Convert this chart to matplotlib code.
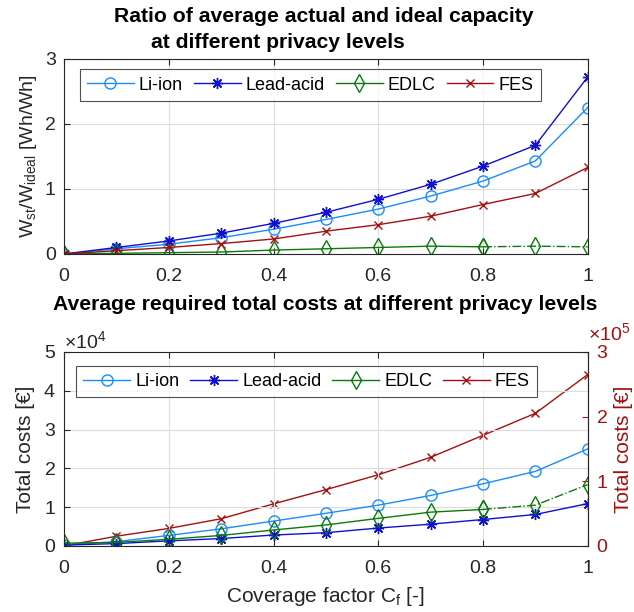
import numpy as np
import matplotlib
matplotlib.use('Agg')
import matplotlib.pyplot as plt
from matplotlib.ticker import ScalarFormatter
from matplotlib.transforms import offset_copy

plt.rcParams['font.family'] = ['Liberation Sans', 'DejaVu Sans']
plt.rcParams['mathtext.fontset'] = 'custom'
plt.rcParams['mathtext.rm'] = 'Liberation Sans'
plt.rcParams['mathtext.it'] = 'Liberation Sans:italic'

# Coverage factor
cf = [0, 0.1, 0.2, 0.3, 0.4, 0.5, 0.6, 0.7, 0.8, 0.9, 1.0]

# Ratio of actual to ideal capacity
ratio_li = [0, 0.08, 0.15, 0.25, 0.38, 0.53, 0.69, 0.89, 1.12, 1.43, 2.25]
ratio_pb = [0, 0.10, 0.20, 0.32, 0.47, 0.64, 0.84, 1.07, 1.35, 1.67, 2.72]
ratio_edlc = [0, 0.01, 0.02, 0.03, 0.06, 0.08, 0.10, 0.12, 0.11, 0.12, 0.11]
ratio_fes = [0, 0.05, 0.10, 0.16, 0.23, 0.35, 0.45, 0.58, 0.76, 0.93, 1.33]

# Total costs [EUR]
cost_li = [200, 1100, 2700, 4400, 6400, 8400, 10500, 13000, 16000, 19200, 25000]
cost_pb = [200, 600, 1300, 1900, 2800, 3400, 4600, 5600, 6800, 8100, 10900]
cost_edlc = [700, 900, 1700, 2700, 4100, 5400, 7100, 8700, 9400, 10500, 15800]
cost_fes = [0, 15000, 27000, 42000, 65000, 87000, 110000, 137000, 171000, 205000, 265000]

labels = ['Li-ion', 'Lead-acid', 'EDLC', 'FES']
c_li = '#1a8cff'
c_pb = '#1010d0'
c_edlc = '#0a7a0a'
c_fes = '#a50f0f'

star = (8, 2, 0)
st_li = dict(color=c_li, marker='o', ms=8, mfc='none', lw=1)
st_pb = dict(color=c_pb, marker=star, ms=8, lw=1)
st_edlc = dict(color=c_edlc, marker='d', ms=9, mfc='none', lw=1)
st_fes = dict(color=c_fes, marker='x', ms=6, lw=1)

fs = 14
leg_kw = dict(ncol=4, loc='upper center', fontsize=13, frameon=True, fancybox=False,
              edgecolor='#262626', handlelength=2.6, handletextpad=0.28,
              columnspacing=0.6, borderpad=0.4, borderaxespad=0)

fig = plt.figure(figsize=(6.34, 6.12), dpi=100)
ax1 = fig.add_axes([0.101, 0.585, 0.826, 0.319])
ax2 = fig.add_axes([0.101, 0.108, 0.826, 0.317])


def style(ax):
    ax.grid(True, color='#dcdcdc', lw=0.8)
    ax.set_axisbelow(True)
    ax.tick_params(direction='in', labelsize=fs, length=4, width=0.8, colors='#262626', pad=6)
    ax.tick_params(axis='x', pad=10)
    for s in ax.spines.values():
        s.set_color('#262626')
        s.set_linewidth(0.8)
    ax.set_xlim(0, 1)
    ax.set_xticks([0, 0.2, 0.4, 0.6, 0.8, 1])
    ax.set_xticklabels(['0', '0.2', '0.4', '0.6', '0.8', '1'])


# top panel
style(ax1)
ax1.tick_params(right=True, top=True)
h1, = ax1.plot(cf, ratio_li, **st_li)
h2, = ax1.plot(cf, ratio_pb, **st_pb)
h3, = ax1.plot(cf[:9], ratio_edlc[:9], **st_edlc)
ax1.plot(cf[8:], ratio_edlc[8:], ls='-.', **st_edlc)
h4, = ax1.plot(cf, ratio_fes, **st_fes)
ax1.set_ylim(0, 3)
ax1.set_yticks([0, 1, 2, 3])
ax1.set_ylabel(r'W$_{\rm st}$/W$_{\rm ideal}$ [Wh/Wh]', fontsize=fs, color='#262626', labelpad=4)
fig.text(324 / 634, 1 - 17 / 612, 'Ratio of average actual and ideal capacity',
         fontsize=15.2, fontweight='bold', ha='center', va='center')
fig.text(278 / 634, 1 - 43 / 612, 'at different privacy levels',
         fontsize=15.2, fontweight='bold', ha='center', va='center')
leg = ax1.legend([h1, h2, h3, h4], labels, bbox_to_anchor=(0.47, 0.945), **leg_kw)
leg.get_frame().set_linewidth(0.8)

# bottom panel
style(ax2)
ax2.tick_params(top=True)
g1, = ax2.plot(cf, cost_li, **st_li)
g2, = ax2.plot(cf, cost_pb, **st_pb)
g3, = ax2.plot(cf[:9], cost_edlc[:9], **st_edlc)
ax2.plot(cf[8:], cost_edlc[8:], ls='-.', **st_edlc)
ax2.set_ylim(0, 50000)
ax2.set_yticks([0, 10000, 20000, 30000, 40000, 50000])
fmt = ScalarFormatter(useMathText=True)
fmt.set_powerlimits((0, 0))
ax2.yaxis.set_major_formatter(fmt)
ax2.yaxis.get_offset_text().set_fontsize(fs)
ax2.set_ylabel('Total costs [€]', fontsize=fs + 1, color='#262626', labelpad=6)
ax2.set_xlabel(r'Coverage factor C$_{\rm f}$ [-]', fontsize=fs + 1, color='#262626', labelpad=6)
fig.text(325 / 634, 1 - 305 / 612, 'Average required total costs at different privacy levels',
         fontsize=15.2, fontweight='bold', ha='center', va='center')

ax3 = ax2.twinx()
g4, = ax3.plot(cf, cost_fes, **st_fes)
ax3.set_ylim(0, 300000)
ax3.set_yticks([0, 100000, 200000, 300000])
fmt2 = ScalarFormatter(useMathText=True)
fmt2.set_powerlimits((0, 0))
ax3.yaxis.set_major_formatter(fmt2)
ax3.tick_params(direction='in', labelsize=fs, length=4, width=0.8, colors=c_fes, pad=6)
ax3.yaxis.get_offset_text().set_visible(False)
ax3.text(1.0, 1.0, r'$\times10^{5}$', fontsize=fs, color=c_fes, ha='left', va='bottom',
         transform=offset_copy(ax3.transAxes, fig=fig, x=0, y=8, units='dots'))
ax3.spines['right'].set_color(c_fes)
ax3.set_ylabel('Total costs [€]', fontsize=fs + 1, color=c_fes, labelpad=4)
for s in ['top', 'left', 'bottom']:
    ax3.spines[s].set_visible(False)

leg2 = ax2.legend([g1, g2, g3, g4], labels, bbox_to_anchor=(0.463, 0.928), **leg_kw)
leg2.get_frame().set_linewidth(0.8)
ax2.set_zorder(ax3.get_zorder() + 1)
ax2.patch.set_visible(False)

fig.savefig('out.png', dpi=100)
